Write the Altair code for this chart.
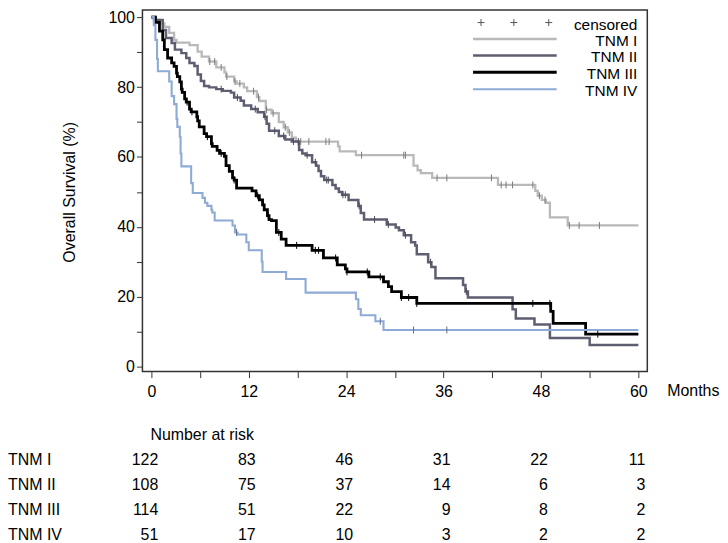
import altair as alt
import pandas as pd

groups = ["TNM I", "TNM II", "TNM III", "TNM IV"]

# Kaplan-Meier step points (months, survival %)
tnm1_t = [0, 0.3, 1.0, 1.6, 2.2, 2.8, 3.1, 4.7, 5.7, 6.2, 7.1, 8.0, 9.0, 9.2, 10.2, 10.5, 11.4, 11.8, 13.0, 13.3,
          14.1, 14.8, 15.7, 16.3, 16.8, 17.3, 17.8, 23.0, 23.2, 25.2, 32.3, 32.8, 33.2, 34.6, 42.7, 47.3, 47.6, 48.1,
          48.6, 49.1, 51.3, 60]
tnm1_s = [100, 99.2, 98.2, 97.2, 95.5, 93.5, 92.7, 92.0, 90.1, 88.7, 87.3, 85.6, 84.2, 83.0, 81.6, 81.0, 79.9, 78.8,
          77.1, 76.0, 73.5, 72.5, 70.0, 68.5, 67.0, 65.5, 64.4, 63.0, 61.6, 60.5, 57.5, 56.2, 55.4, 54.0, 52.0, 50.3,
          48.9, 47.7, 46.9, 42.7, 40.4, 40.4]
tnm1_cens = [7.2, 7.8, 8.6, 9.3, 10.3, 10.9, 12.6, 13.2, 14.2, 15.0, 16.5, 17.0, 18.4, 19.4, 21.5, 21.9, 25.9, 31.1,
             31.3, 35.2, 36.4, 41.9, 43.1, 43.7, 44.5, 47.0, 47.8, 48.5, 51.5, 52.7, 55.2]

tnm2_t = [0, 0.5, 1.4, 1.8, 2.5, 2.9, 3.7, 4.3, 4.7, 5.3, 5.7, 6.1, 6.5, 7.1, 8.0, 8.8, 9.8, 10.2, 11.0, 11.4,
          12.3, 13.1, 13.9, 14.2, 14.5, 15.7, 16.5, 17.3, 18.2, 18.6, 19.0, 19.8, 20.3, 20.6, 20.9, 21.3, 22.3, 22.7,
          23.1, 23.5, 24.3, 25.5, 25.8, 26.2, 29.0, 30.1, 30.5, 31.1, 32.0, 32.5, 32.7, 34.1, 34.5, 35.0, 38.4, 38.7,
          39.0, 44.5, 44.9, 47.2, 49.1, 54.0, 60]
tnm2_s = [100, 99.2, 96.3, 94.0, 92.6, 90.7, 89.7, 88.3, 86.9, 86.0, 83.6, 81.7, 80.3, 79.9, 79.4, 78.9, 78.4, 77.0,
          76.1, 74.7, 73.7, 72.8, 71.5, 69.5, 67.5, 66.0, 65.0, 64.4, 62.0, 61.0, 60.5, 58.5, 57.5, 56.0, 54.5, 53.4,
          52.0, 51.0, 50.0, 49.2, 47.7, 46.0, 44.0, 42.1, 40.7, 39.8, 39.0, 37.6, 35.6, 34.7, 32.2, 29.9, 28.5, 25.3,
          23.4, 21.5, 19.8, 16.4, 13.8, 12.1, 8.2, 6.2, 6.2]
tnm2_cens = [8.6, 10.6, 12.8, 14.0, 15.2, 16.3, 17.5, 18.1, 19.2, 20.2, 21.6, 21.8, 23.6, 23.9, 25.6, 27.5, 29.2,
             31.3, 34.4, 38.8]

tnm3_t = [0, 0.5, 1.0, 1.4, 1.6, 2.0, 2.5, 2.8, 3.1, 3.2, 3.5, 3.7, 3.8, 4.1, 4.3, 4.7, 4.9, 5.6, 5.7, 5.9, 6.5,
          6.8, 7.4, 7.5, 8.1, 8.4, 9.0, 9.2, 9.6, 10.0, 10.2, 10.5, 12.4, 12.9, 13.3, 13.7, 13.9, 14.3, 14.5, 14.8,
          15.4, 16.0, 16.6, 19.8, 21.2, 22.9, 23.9, 24.1, 26.8, 28.6, 29.2, 29.6, 30.8, 32.7, 49.2, 49.5, 53.5, 60]
tnm3_s = [100, 98.5, 96.0, 93.5, 90.7, 88.3, 86.9, 85.9, 84.0, 83.0, 81.5, 79.4, 78.5, 76.6, 75.7, 73.7, 72.9, 71.5,
          70.3, 68.6, 66.7, 65.8, 63.8, 63.0, 61.9, 61.0, 60.2, 57.5, 55.9, 54.0, 53.4, 51.1, 50.3, 48.9, 47.7, 46.3,
          44.9, 43.2, 42.1, 41.8, 38.4, 36.5, 34.7, 33.3, 31.1, 29.1, 28.0, 27.1, 25.7, 24.3, 22.9, 21.5, 19.8, 18.1,
          15.8, 12.4, 9.3, 9.3]
tnm3_cens = [4.4, 5.0, 6.9, 8.6, 10.2, 13.1, 14.4, 15.7, 17.9, 20.2, 20.6, 22.7, 24.1, 26.6, 28.2, 30.8, 31.7, 32.7,
             47.0, 49.1, 55.0]

tnm4_t = [0, 0.3, 0.5, 0.7, 0.8, 2.2, 2.5, 2.8, 3.1, 3.2, 3.5, 3.6, 3.7, 4.9, 5.1, 6.3, 6.6, 6.9, 7.4, 7.5, 7.8,
          10.0, 10.3, 10.6, 11.7, 12.0, 13.6, 13.7, 16.6, 19.0, 25.2, 25.5, 25.8, 27.6, 28.6, 60]
tnm4_s = [100, 97.7, 93.5, 88.0, 84.5, 81.6, 77.4, 75.1, 70.9, 68.6, 65.8, 61.0, 57.3, 52.5, 49.7, 48.3, 46.9, 46.0,
          44.9, 44.1, 41.8, 40.4, 38.4, 37.8, 35.6, 33.3, 30.0, 27.1, 25.1, 21.2, 19.3, 16.5, 14.7, 13.0, 10.5, 10.5]
tnm4_cens = [10.5, 28.2, 32.3, 36.4]

# Number at risk
risk_months = [0, 12, 24, 36, 48, 60]
risk_tnm1 = [122, 83, 46, 31, 22, 11]
risk_tnm2 = [108, 75, 37, 14, 6, 3]
risk_tnm3 = [114, 51, 22, 9, 8, 2]
risk_tnm4 = [51, 17, 10, 3, 2, 2]

x_ticks = list(range(0, 61, 6))
y_ticks = list(range(0, 101, 10))

# styles
line_colors = ["#b9b9b9", "#5e5e72", "#000000", "#8eaad6"]
cens_colors = ["#7a7a7a", "#4a4a5a", "#000000", "#5f6f88"]
line_widths = [2.3, 2.5, 2.8, 2.1]
FONT = "Liberation Sans"

T = [tnm1_t, tnm2_t, tnm3_t, tnm4_t]
S = [tnm1_s, tnm2_s, tnm3_s, tnm4_s]
C = [tnm1_cens, tnm2_cens, tnm3_cens, tnm4_cens]
R = [risk_tnm1, risk_tnm2, risk_tnm3, risk_tnm4]


def level_at(ts, ss, t):
    v = ss[0]
    for ti, si in zip(ts, ss):
        if ti <= t:
            v = si
    return v


xscale = alt.Scale(domain=[-1.1, 61.1], nice=False, zero=False)
yscale = alt.Scale(domain=[-1.4, 102], nice=False, zero=False)
xaxis = alt.Axis(values=x_ticks, labelExpr="datum.value % 12 === 0 ? datum.label : ''", title=None,
                 labelPadding=6)
yaxis = alt.Axis(values=y_ticks, labelExpr="datum.value % 20 === 0 ? datum.label : ''", title=None,
                 labelPadding=2)

def xenc():
    return alt.X("month:Q", scale=xscale, axis=xaxis)

def yenc():
    return alt.Y("surv:Q", scale=yscale, axis=yaxis)

layers = []
for g, ts, ss, col, w in zip(groups, T, S, line_colors, line_widths):
    df = pd.DataFrame({"month": ts, "surv": ss, "group": g})
    layers.append(alt.Chart(df).mark_line(interpolate="step-after", color=col, strokeWidth=w)
                  .encode(x=xenc(), y=yenc()))

for g, ts, ss, cs, col in zip(groups, T, S, C, cens_colors):
    df = pd.DataFrame({"month": cs, "surv": [level_at(ts, ss, c) for c in cs], "group": g})
    layers.append(alt.Chart(df).mark_point(shape="M0,-1L0,1", size=49, strokeWidth=1, color=col, filled=False,
                                           opacity=1)
                  .encode(x=xenc(), y=yenc()))

# Legend (drawn inside the plot, top right)
legend_rows_y = [29.0, 45.5, 62.5, 79.5]
for g, col, w, yy in zip(groups, line_colors, [2.3, 2.6, 3.0, 2.0], legend_rows_y):
    one = pd.DataFrame({"label": [g]})
    layers.append(alt.Chart(one).mark_rule(color=col, strokeWidth=w)
                  .encode(x=alt.value(332), x2=alt.value(416), y=alt.value(yy)))
    layers.append(alt.Chart(one).mark_text(align="right", baseline="middle", font=FONT, fontSize=15.5, color="#000")
                  .encode(x=alt.value(497), y=alt.value(yy + 2), text="label:N"))

plus_df = pd.DataFrame({"label": ["censored"]})
for px in [340, 373, 408]:
    layers.append(alt.Chart(plus_df).mark_point(shape="M-1,0L1,0M0,-1L0,1", size=49, strokeWidth=1,
                                                color="#555", filled=False, opacity=1)
                  .encode(x=alt.value(px), y=alt.value(12.5)))
layers.append(alt.Chart(plus_df).mark_text(align="right", baseline="middle", font=FONT, fontSize=15.5, color="#000")
              .encode(x=alt.value(497), y=alt.value(14.5), text="label:N"))

# Axis extra labels
months_df = pd.DataFrame({"label": ["Months"]})
layers.append(alt.Chart(months_df).mark_text(align="left", baseline="middle", font=FONT, fontSize=16, color="#000")
              .encode(x=alt.value(527), y=alt.value(383), text="label:N"))
ytitle_df = pd.DataFrame({"label": ["Overall Survival (%)"]})
layers.append(alt.Chart(ytitle_df).mark_text(align="center", baseline="middle", angle=270, font=FONT, fontSize=16,
                                             color="#000")
              .encode(x=alt.value(-73), y=alt.value(183), text="label:N"))

# Number at risk table
hdr_df = pd.DataFrame({"label": ["Number at risk"]})
layers.append(alt.Chart(hdr_df).mark_text(align="left", baseline="middle", font=FONT, fontSize=16, color="#000")
              .encode(x=alt.value(8), y=alt.value(427), text="label:N"))
row_y = [452, 477, 502, 527]
for g, counts, yy in zip(groups, R, row_y):
    lab = pd.DataFrame({"label": [g]})
    layers.append(alt.Chart(lab).mark_text(align="left", baseline="middle", font=FONT, fontSize=16, color="#000")
                  .encode(x=alt.value(-135), y=alt.value(yy), text="label:N"))
    df = pd.DataFrame({"month": risk_months, "n": counts})
    layers.append(alt.Chart(df).mark_text(align="right", baseline="middle", dx=7, font=FONT, fontSize=16,
                                          color="#000")
                  .encode(x=xenc(), y=alt.value(yy), text="n:Q"))

chart = (alt.layer(*layers)
         .properties(width=507, height=363, padding=0)
         .configure_view(stroke="#333333", strokeWidth=1.5)
         .configure_axis(domain=False, grid=False, tickColor="#333333", tickSize=6, tickWidth=1,
                         labelFont=FONT, labelFontSize=16, labelColor="#000"))

chart.save("out.html", embed_options={"renderer": "svg", "actions": False})
